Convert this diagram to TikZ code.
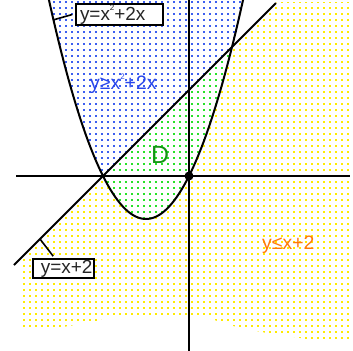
\documentclass[tikz,border=0pt]{standalone}
\usepackage{fontspec}
\setmainfont{Liberation Sans}
\definecolor{dotblue}{RGB}{60,95,240}
\definecolor{dotgreen}{RGB}{40,225,40}
\definecolor{dotyellow}{RGB}{255,235,0}
\definecolor{txtblue}{RGB}{40,70,235}
\definecolor{txtgreen}{RGB}{20,150,20}
\definecolor{txtorange}{RGB}{255,120,10}
\newcommand{\supii}{\raisebox{0.5em}{\fontsize{8}{8}\selectfont 2}}
\newcommand{\parab}{plot[domain=-3.3:1.3, samples=80] ({189+43*\x},{176-43*(\x*\x+2*\x)})}
\begin{document}
\begin{tikzpicture}[x=1bp,y=-1bp,
  curve/.style={line width=2bp, black},
  axis/.style={line width=1.6bp, black},
  leader/.style={line width=1.6bp, black},
  lbl/.style={draw=black, line width=1.6bp, fill=white, inner sep=0pt, font=\fontsize{19}{19}\selectfont, text=black!85},
  freetext/.style={anchor=base west, inner sep=0pt, font=\fontsize{19.5}{19.5}\selectfont}]
\useasboundingbox (0,0) rectangle (353,351);
% blue: inside parabola, above line
\begin{scope}
  \clip (0,0) -- (279,0) -- (0,279) -- cycle;
  \clip \parab -- cycle;
  \fill[dotblue] \foreach \i in {7,...,42} {\foreach \j in {0,...,30} {({6*\i-1},{6*\j+1}) rectangle ++(1.8,1.8)}};
\end{scope}
% green: inside parabola, below line
\begin{scope}
  \clip (279,0) -- (353,0) -- (353,351) -- (0,351) -- (0,279) -- cycle;
  \clip \parab -- cycle;
  \fill[dotgreen] \foreach \i in {16,...,41} {\foreach \j in {6,...,38} {({6*\i-1},{6*\j+1}) rectangle ++(1.8,1.8)}};
\end{scope}
% yellow: below line, outside parabola
\begin{scope}[even odd rule]
  \clip (279,0) -- (353,0) -- (353,351) -- (0,351) -- (0,279) -- cycle;
  \clip
    (21,2) -- (351,2) -- plot[smooth] coordinates {(351,343) (320,342) (300,338) (267,333) (237,327) (220,322) (200,318) (110,318) (97,322) (75,325) (50,329) (21,331)} -- cycle
    \parab -- cycle;
  \fill[dotyellow] \foreach \i in {3,...,58} {\foreach \j in {0,...,57} {({6*\i-1},{6*\j+1}) rectangle ++(1.9,1.9)}};
\end{scope}
% axes
\draw[axis] (16,176) -- (350,176);
\draw[axis] (189,0) -- (189,351);
% curves
\draw[curve] plot[domain=-3.26:1.26, samples=80] ({189+43*\x},{176-43*(\x*\x+2*\x)});
\draw[curve] (14,265) -- (276,3);
% labels
\node[lbl, minimum width=87bp, minimum height=21bp] (lab1) at (119.5,14.5) {\makebox[79bp][l]{y=x\supii+2x}};
\node[lbl, minimum width=61bp, minimum height=19bp] (lab2) at (63.5,268.5) {\makebox[58bp][r]{y=x+2}};
\coordinate (p1) at (53,20);
\coordinate (p2) at (40,239);
\draw[leader] (p1) -- ([xshift=-3bp]lab1.west);
\draw[leader] (p2) -- ([xshift=21bp,yshift=2bp]lab2.north west);
\node[freetext, text=txtblue] (t1) at (90,89) {y≥x\supii+2x};
\node[freetext, text=txtgreen, font=\fontsize{25}{25}\selectfont] (t2) at (151,163) {D};
\node[freetext, text=txtorange] (t3) at (262,249) {y≤x+2};
\fill[black] (189,176) circle (4.5bp);
\end{tikzpicture}
\end{document}
